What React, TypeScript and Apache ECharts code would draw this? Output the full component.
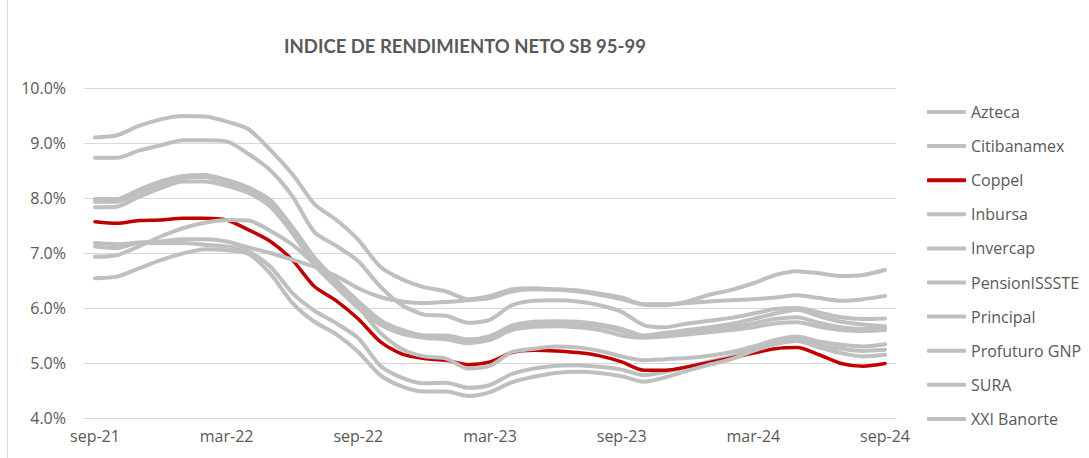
import React, { useEffect, useRef } from "react";
import * as echarts from "echarts";

const months = [
  "sep-21","oct-21","nov-21","dic-21","ene-22","feb-22","mar-22","abr-22","may-22","jun-22","jul-22","ago-22",
  "sep-22","oct-22","nov-22","dic-22","ene-23","feb-23","mar-23","abr-23","may-23","jun-23","jul-23","ago-23",
  "sep-23","oct-23","nov-23","dic-23","ene-24","feb-24","mar-24","abr-24","may-24","jun-24","jul-24","ago-24","sep-24",
];

const azteca = [7.12,7.09,7.18,7.18,7.18,7.15,7.12,7.03,6.75,6.27,5.95,5.72,5.45,4.95,4.73,4.63,4.64,4.55,4.60,4.80,4.90,4.95,4.96,4.93,4.88,4.78,4.84,4.93,5.03,5.12,5.27,5.38,5.45,5.33,5.26,5.22,5.24];
const citibanamex = [7.98,7.98,8.15,8.30,8.40,8.42,8.33,8.19,7.96,7.47,6.92,6.50,6.12,5.78,5.60,5.50,5.50,5.43,5.49,5.68,5.75,5.76,5.75,5.70,5.62,5.50,5.55,5.60,5.65,5.71,5.80,5.90,5.97,5.85,5.75,5.70,5.67];
const coppel = [7.57,7.54,7.59,7.60,7.63,7.63,7.60,7.42,7.21,6.87,6.39,6.13,5.80,5.39,5.16,5.08,5.05,4.97,5.02,5.19,5.23,5.22,5.19,5.13,5.02,4.87,4.87,4.93,5.01,5.09,5.18,5.26,5.28,5.15,4.99,4.94,4.99];
const inbursa = [6.54,6.57,6.72,6.87,6.99,7.07,7.05,6.98,6.62,6.09,5.75,5.52,5.20,4.78,4.57,4.48,4.48,4.40,4.47,4.65,4.75,4.82,4.84,4.82,4.76,4.66,4.74,4.86,4.97,5.07,5.22,5.34,5.40,5.28,5.18,5.12,5.15];
const invercap = [7.18,7.16,7.19,7.21,7.25,7.25,7.21,7.10,7.00,6.88,6.75,6.58,6.36,6.20,6.12,6.09,6.11,6.14,6.18,6.30,6.34,6.33,6.30,6.24,6.16,6.07,6.07,6.09,6.12,6.14,6.16,6.19,6.23,6.18,6.13,6.16,6.22];
const pensionissste = [9.10,9.14,9.31,9.43,9.49,9.48,9.39,9.25,8.87,8.43,7.89,7.60,7.24,6.75,6.52,6.38,6.30,6.16,6.22,6.34,6.36,6.34,6.32,6.26,6.19,6.06,6.05,6.12,6.24,6.33,6.45,6.60,6.67,6.63,6.58,6.60,6.69];
const principal = [7.83,7.84,8.02,8.18,8.30,8.30,8.22,8.09,7.84,7.36,6.78,6.38,6.00,5.70,5.53,5.46,5.43,5.36,5.42,5.60,5.66,5.67,5.65,5.60,5.50,5.46,5.48,5.52,5.56,5.60,5.65,5.72,5.74,5.66,5.60,5.58,5.60];
const profuturo = [8.73,8.73,8.86,8.96,9.05,9.05,9.03,8.80,8.50,8.03,7.38,7.13,6.85,6.39,6.05,5.88,5.86,5.73,5.79,6.05,6.13,6.14,6.12,6.05,5.93,5.69,5.65,5.72,5.77,5.82,5.90,5.98,6.00,5.92,5.83,5.80,5.81];
const sura = [7.93,7.93,8.10,8.24,8.36,8.38,8.28,8.16,7.90,7.42,6.85,6.45,6.06,5.74,5.56,5.48,5.47,5.40,5.46,5.65,5.72,5.73,5.71,5.67,5.58,5.48,5.50,5.54,5.60,5.65,5.72,5.80,5.83,5.73,5.65,5.62,5.63];
const xxiBanorte = [6.93,6.96,7.12,7.30,7.45,7.55,7.60,7.59,7.40,7.15,6.80,6.45,6.02,5.55,5.25,5.12,5.08,4.90,4.95,5.20,5.26,5.30,5.28,5.22,5.12,5.05,5.07,5.09,5.13,5.20,5.30,5.42,5.48,5.39,5.33,5.30,5.34];

const seriesNames = ["Azteca","Citibanamex","Coppel","Inbursa","Invercap","PensionISSSTE","Principal","Profuturo GNP","SURA","XXI Banorte"];
const seriesValues = [azteca, citibanamex, coppel, inbursa, invercap, pensionissste, principal, profuturo, sura, xxiBanorte];
const yTicks = [4, 5, 6, 7, 8, 9, 10];

const GRAY = "#bfbfbf";
const RED = "#c00000";
const FONT = "Open Sans";

export default function App() {
  const ref = useRef<HTMLDivElement>(null);
  useEffect(() => {
    if (!ref.current) return;
    const chart = echarts.init(ref.current, null, { renderer: "svg" });
    const series = seriesNames.map((name, i) => {
      const isRed = name === "Coppel";
      const color = isRed ? RED : GRAY;
      return {
        name,
        type: "line",
        data: seriesValues[i],
        smooth: 0.25,
        showSymbol: false,
        symbol: "none",
        lineStyle: { color, width: isRed ? 3.5 : 4, cap: "round", join: "round" },
        itemStyle: { color },
        emphasis: { disabled: true },
        z: 2,
      };
    });
    chart.setOption({
      animation: false,
      backgroundColor: "#ffffff",
      grid: { left: 84, right: 193, top: 88, bottom: 40, containLabel: false },
      graphic: [
        {
          type: "line",
          shape: { x1: 7.5, y1: 0, x2: 7.5, y2: 458 },
          style: { stroke: "#d9d9d9", lineWidth: 1 },
        },
        {
          type: "text",
          x: 465,
          y: 46,
          style: {
            text: "INDICE DE RENDIMIENTO NETO SB 95-99",
            fill: "#595959",
            font: "bold 18.5px Lato",
            textAlign: "center",
            textVerticalAlign: "middle",
          },
        },
      ],
      legend: {
        orient: "vertical",
        left: 927,
        top: 102,
        padding: 0,
        itemWidth: 39,
        itemHeight: 4,
        itemGap: 14.1,
        icon: "roundRect",
        data: seriesNames,
        textStyle: { color: "#595959", fontSize: 16, fontFamily: FONT, lineHeight: 20 },
      },
      xAxis: {
        type: "category",
        data: months,
        boundaryGap: true,
        axisLine: { show: true, lineStyle: { color: "#d9d9d9", width: 1 } },
        axisTick: { show: false },
        axisLabel: { interval: 5, color: "#595959", fontSize: 16, fontFamily: FONT, margin: 10 },
        splitLine: { show: false },
      },
      yAxis: {
        type: "value",
        min: yTicks[0],
        max: yTicks[yTicks.length - 1],
        interval: 1,
        axisLine: { show: false },
        axisTick: { show: false },
        axisLabel: {
          color: "#595959",
          fontSize: 16,
          fontFamily: FONT,
          margin: 18,
          formatter: (v: number) => v.toFixed(1) + "%",
        },
        splitLine: { show: true, lineStyle: { color: "#d9d9d9", width: 1 } },
      },
      series,
    });
    return () => chart.dispose();
  }, []);
  return (
    <div
      ref={ref}
      style={{ position: "fixed", left: 0, top: 0, width: 1089, height: 458, background: "#fff" }}
    />
  );
}
